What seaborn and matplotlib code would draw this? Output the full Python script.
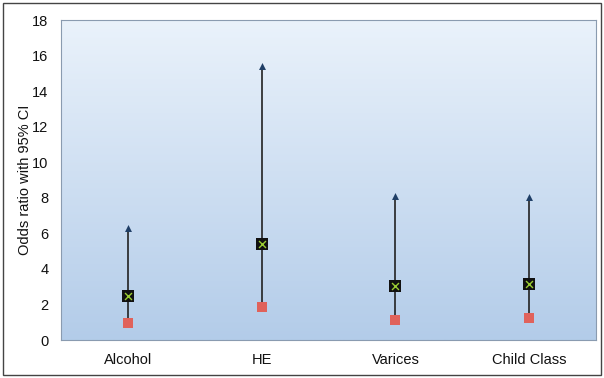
import numpy as np
import pandas as pd
import matplotlib
matplotlib.use("Agg")
import matplotlib.pyplot as plt
from matplotlib.colors import LinearSegmentedColormap
from matplotlib.patches import Rectangle
import seaborn as sns

categories = ["Alcohol", "HE", "Varices", "Child Class"]
odds_ratio = [2.45, 5.4, 3.05, 3.15]
ci_lower = [0.95, 1.85, 1.12, 1.22]
ci_upper = [6.3, 15.4, 8.1, 8.05]
y_ticks = [0, 2, 4, 6, 8, 10, 12, 14, 16, 18]

df = pd.DataFrame({
    "factor": categories,
    "or": odds_ratio,
    "lo": ci_lower,
    "hi": ci_upper,
})

sns.set_theme(style="white")
plt.rcParams["font.family"] = ["Liberation Sans", "DejaVu Sans"]

fig = plt.figure(figsize=(6.04, 3.78), dpi=100)
ax = fig.add_axes([0.101, 0.1005, 0.886, 0.8465])

# gradient plot-area fill, light at the top and darker at the bottom
grad = LinearSegmentedColormap.from_list("bg", ["#eaf2fb", "#b3cce9"])
ax.imshow(np.linspace(0, 1, 256).reshape(-1, 1), cmap=grad, aspect="auto",
          extent=[0, 1, 0, 1], transform=ax.transAxes, zorder=0)

# confidence interval lines
x_pos = np.arange(len(categories))
ax.vlines(x_pos, df["lo"], df["hi"], color="#222222", lw=1.2, zorder=2)

sns.stripplot(data=df, x="factor", y="hi", jitter=False, marker="^", size=5,
              color="#1f3e66", linewidth=0, ax=ax, zorder=3)
sns.stripplot(data=df, x="factor", y="lo", jitter=False, marker="s", size=7,
              color="#e0625b", linewidth=0, ax=ax, zorder=3)
sns.stripplot(data=df, x="factor", y="or", jitter=False, marker="s", size=8,
              color="#111111", linewidth=0, ax=ax, zorder=3)
sns.stripplot(data=df, x="factor", y="or", jitter=False, marker="x", size=5,
              color="#9acd32", linewidth=1.0, ax=ax, zorder=4)

ax.set_xlim(-0.5, len(categories) - 0.5)
ax.set_ylim(0, 18)
ax.set_yticks(y_ticks)
ax.set_yticklabels([str(t) for t in y_ticks])
ax.tick_params(axis="both", length=0, labelsize=10.5, colors="#111111")
ax.tick_params(axis="x", pad=9)
ax.tick_params(axis="y", pad=9)
ax.set_xlabel("")
ax.set_ylabel("Odds ratio with 95% CI", fontsize=10.5, color="#111111", labelpad=0)

for s in ax.spines.values():
    s.set_color("#8a9bb0")
    s.set_linewidth(0.8)

# outer frame around the whole chart
fig.patches.append(Rectangle((0.005, 0.008), 0.99, 0.984, transform=fig.transFigure,
                             fill=False, edgecolor="#444444", lw=1.0))

fig.savefig("out.png", dpi=100)
